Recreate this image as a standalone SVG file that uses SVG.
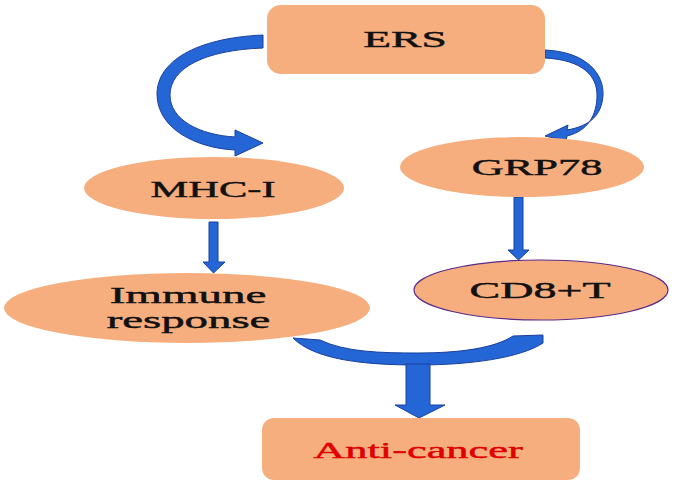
<svg xmlns="http://www.w3.org/2000/svg" width="685" height="485" viewBox="0 0 685 485">
<style>
.node{fill:#F6AE7E}
.lbl{font-family:"Liberation Serif","Times New Roman",serif;font-size:24px;fill:#111;stroke:#111;stroke-width:0.45;text-anchor:middle}
.red{fill:#E00000;stroke:#E00000}
.arr{fill:#2466D6;stroke:#1A3F9C;stroke-width:1}
</style>
<rect width="685" height="485" fill="#fff"/>
<g id="connectors">
<path class="arr" d="M263,35 C195,38 157,62 157,94 C157,128 195,148 235,150 L235,156 L263,143 L235,130 L235,137 C200,135 170,120 170,95 C170,68 205,50 263,48 Z"/>
<path class="arr" d="M545,50 C588,52 604,75 603,95 C602,115 590,126 567,130 L568,125 L545,136 L566,141 L567,136 C588,131 597,115 597,95 C597,76 583,60 545,58 Z"/>
<path class="arr" d="M209,222 L218,222 L218,262 L225,262 L213.5,273 L203,262 L209,262 Z"/>
<path class="arr" d="M514,197 L523,197 L523,250 L529,250 L518.5,260 L508,250 L514,250 Z"/>
<path class="arr" d="M293,338 L320,340 C345,352 380,353 418,353 C460,353 495,348 513,336 L543,335 L543,343 C520,358 470,365 418,365 C365,365 315,360 293,338 Z"/>
<path class="arr" d="M406,364 L430,364 L430,405 L445,405 L419,418 L395,405 L406,405 Z"/>
</g>
<g id="ERS">
<rect class="node" x="267" y="5" width="278" height="69" rx="14"/>
<text class="lbl" transform="translate(405,47) scale(1.9,1)" font-size="23">ERS</text>
</g>
<g id="MHC-I">
<ellipse class="node" cx="214" cy="188" rx="130" ry="31"/>
<text class="lbl" transform="translate(213,197) scale(1.77,1)" font-size="25">MHC-I</text>
</g>
<g id="GRP78">
<ellipse class="node" cx="522" cy="167" rx="122" ry="30"/>
<text class="lbl" transform="translate(537,175) scale(1.85,1)">GRP78</text>
</g>
<g id="Immune">
<ellipse class="node" cx="187" cy="308" rx="183" ry="35"/>
<text class="lbl" transform="translate(188,303) scale(1.96,1)" font-size="23">Immune</text>
<text class="lbl" transform="translate(188.5,328) scale(1.95,1)" font-size="23">response</text>
</g>
<g id="CD8T">
<ellipse class="node" cx="541" cy="290" rx="127" ry="30" stroke="#5A2A8A" stroke-width="1.2"/>
<text class="lbl" transform="translate(540,298) scale(1.92,1)" font-size="23">CD8+T</text>
</g>
<g id="Anticancer">
<rect class="node" x="262" y="418" width="318" height="62" rx="12"/>
<text class="lbl red" transform="translate(418,458) scale(1.85,1)">Anti-cancer</text>
</g>
</svg>
